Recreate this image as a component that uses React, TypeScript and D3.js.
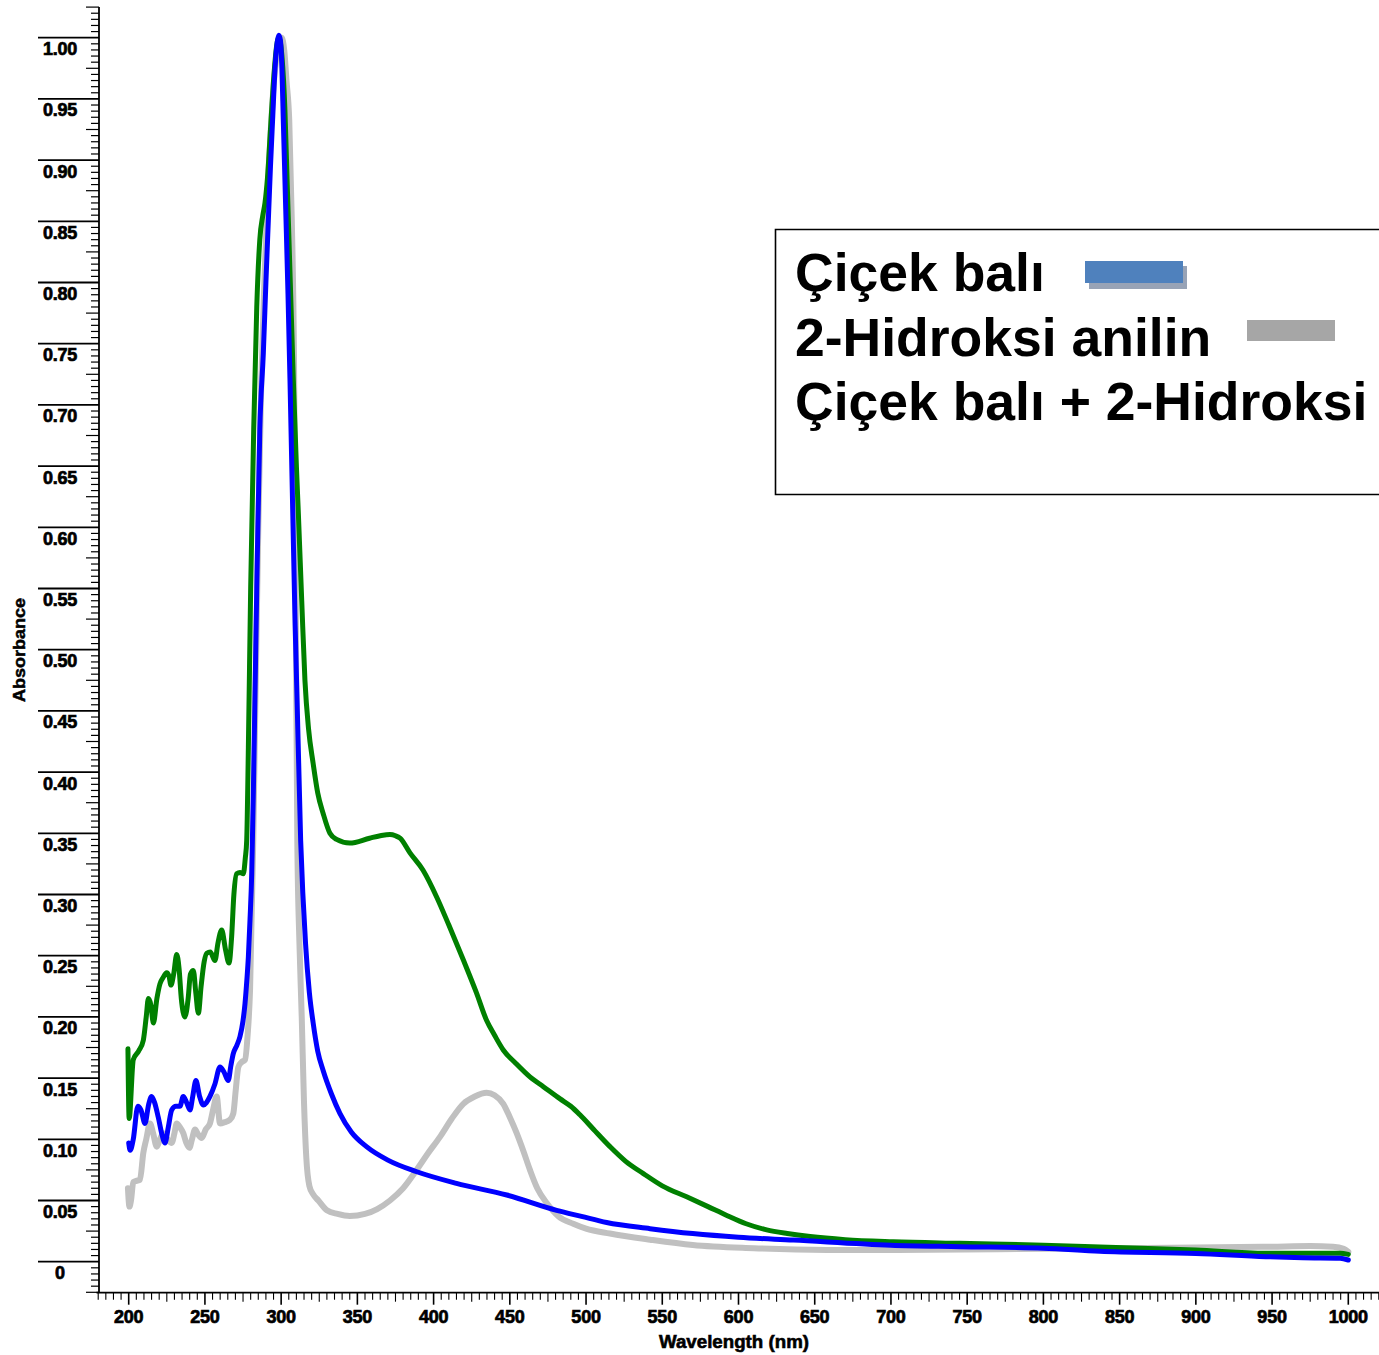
import React, { useEffect, useRef } from "react";
import * as d3 from "d3";

// [wavelength nm, absorbance]
const cicekBali: [number, number][] = [
  [200, 0.097], [201, 0.091], [203, 0.1], [206, 0.127], [208, 0.124], [210.7, 0.113],
  [213, 0.128], [215, 0.135], [217, 0.13], [219.4, 0.118], [222, 0.103], [223.8, 0.097],
  [226, 0.11], [228.2, 0.124], [231, 0.127], [233.6, 0.127], [235.8, 0.135], [238, 0.13],
  [240.2, 0.124], [242, 0.135], [244.1, 0.148], [246.5, 0.135], [249, 0.128], [251, 0.13],
  [253.3, 0.135], [256.5, 0.145], [259.9, 0.159], [262.5, 0.155], [265.3, 0.148], [267, 0.16],
  [268.6, 0.17], [271, 0.177], [273, 0.184], [275, 0.197], [276.3, 0.211], [277.5, 0.23],
  [278.5, 0.249], [279.6, 0.28], [280.7, 0.317], [282, 0.4], [284, 0.55], [286, 0.68],
  [288.3, 0.742], [290, 0.8], [291.6, 0.851], [293, 0.895], [294.4, 0.933], [296, 0.975],
  [297.5, 0.997], [298.5, 1.002], [299.5, 0.998], [300.5, 0.975], [301.4, 0.933], [303, 0.86],
  [304.5, 0.79], [305.8, 0.72], [309, 0.53], [312.8, 0.344], [316, 0.26], [318.5, 0.22],
  [321, 0.195], [324, 0.172], [327.6, 0.156], [333, 0.137], [338.6, 0.121], [346, 0.106],
  [356, 0.094], [370, 0.083], [389, 0.0735], [415, 0.064], [448, 0.0545], [480.7, 0.042],
  [497, 0.037], [513.5, 0.032], [542, 0.027], [570, 0.023], [600, 0.02], [636, 0.0177],
  [700, 0.0135], [745, 0.0123], [800, 0.011], [837, 0.0085], [900, 0.0068], [946, 0.0041],
  [970, 0.0032], [994.6, 0.0028], [1000, 0.0014],
];

const hidroksiAnilin: [number, number][] = [
  [199.5, 0.06], [200.5, 0.045], [201.5, 0.05], [203, 0.065], [205, 0.066], [207.4, 0.067],
  [209.6, 0.089], [211.5, 0.1], [214, 0.113], [216, 0.105], [218.4, 0.094], [220.5, 0.1],
  [222.7, 0.105], [225.5, 0.1], [228.2, 0.097], [230, 0.105], [231.5, 0.113], [233.5, 0.11],
  [235.8, 0.105], [237.8, 0.097], [239.8, 0.093], [241.5, 0.1], [243.5, 0.108], [245.5, 0.104],
  [247.9, 0.101], [250.5, 0.108], [253.3, 0.113], [255.5, 0.125], [257.7, 0.135], [259.9, 0.113],
  [263, 0.114], [266.4, 0.116], [268.6, 0.121], [270.2, 0.14], [271.9, 0.159], [274, 0.163],
  [276.3, 0.165], [278, 0.185], [279.6, 0.222], [281.7, 0.344], [283, 0.45], [285, 0.6],
  [287, 0.72], [289, 0.8], [291, 0.87], [293, 0.92], [295, 0.96], [297, 0.985], [299, 0.998],
  [300.3, 1.0], [302, 0.99], [303.5, 0.965], [305.3, 0.933], [307, 0.85], [308.4, 0.742],
  [309.5, 0.55], [310.6, 0.344], [312, 0.26], [313.5, 0.2], [315, 0.13], [316.5, 0.085],
  [318.5, 0.062], [321, 0.055], [324.4, 0.05], [330, 0.042], [337, 0.039], [345, 0.0373],
  [355, 0.039], [363, 0.043], [371.4, 0.05], [380, 0.06], [388.9, 0.075], [396, 0.088],
  [404.2, 0.102], [412, 0.117], [419.5, 0.129], [427, 0.135], [434.8, 0.138], [440, 0.136],
  [445.7, 0.129], [450, 0.118], [454.5, 0.105], [459, 0.09], [463.2, 0.075], [468, 0.06],
  [474.2, 0.048], [482, 0.037], [491.6, 0.031], [500, 0.027], [515.7, 0.023], [542, 0.018],
  [570, 0.0136], [610, 0.011], [658, 0.0096], [700, 0.0095], [800, 0.0105], [850, 0.011],
  [900, 0.0115], [950, 0.0123], [975, 0.0128], [990, 0.0122], [997, 0.0105], [1000, 0.008],
];

const karisim: [number, number][] = [
  [199.5, 0.174], [200.3, 0.117], [203, 0.165], [206.5, 0.172], [209.6, 0.181], [211.5, 0.2],
  [212.9, 0.215], [214.5, 0.21], [216.2, 0.195], [218.5, 0.215], [220.5, 0.227], [222.5, 0.232],
  [224.9, 0.236], [226.5, 0.233], [227.7, 0.226], [229.5, 0.235], [231.5, 0.251], [233, 0.24],
  [234.5, 0.215], [236.9, 0.2], [239, 0.215], [240.5, 0.235], [242.4, 0.238], [244, 0.22],
  [245.7, 0.203], [247.5, 0.225], [249.5, 0.245], [251.2, 0.252], [253.5, 0.253], [256.6, 0.246],
  [258.5, 0.26], [261, 0.271], [263.5, 0.255], [265.8, 0.244], [267.5, 0.265], [269, 0.3],
  [270.8, 0.317], [273, 0.318], [275.2, 0.317], [276.5, 0.33], [277.4, 0.344], [278.5, 0.42],
  [280, 0.55], [282, 0.68], [284, 0.78], [286, 0.835], [288, 0.855], [289.4, 0.865],
  [291, 0.885], [293, 0.925], [295, 0.965], [297, 0.993], [298.5, 1.0], [300.5, 0.985],
  [302.5, 0.94], [304, 0.88], [306, 0.8], [308, 0.72], [310, 0.65], [311.3, 0.611],
  [313.5, 0.54], [315.6, 0.475], [318, 0.435], [321, 0.407], [324, 0.383], [327.6, 0.366],
  [332, 0.35], [336.4, 0.345], [345, 0.342], [358, 0.346], [365, 0.348], [371.4, 0.349],
  [375, 0.348], [378, 0.346], [384.5, 0.334], [393, 0.32], [402, 0.298], [410, 0.275],
  [420, 0.245], [428, 0.22], [434.8, 0.197], [440, 0.185], [445.7, 0.173], [454, 0.162],
  [463.2, 0.151], [472, 0.143], [483, 0.133], [490, 0.127], [496, 0.12], [505, 0.108],
  [515.7, 0.094], [526, 0.082], [537.6, 0.072], [550, 0.062], [566, 0.053], [580, 0.045],
  [592, 0.038], [605, 0.031], [618.5, 0.026], [632, 0.023], [647, 0.0205], [670, 0.018],
  [701.5, 0.0163], [745, 0.015], [800, 0.0135], [837, 0.012], [900, 0.0095], [946, 0.0069],
  [970, 0.007], [994.6, 0.0069], [1000, 0.006],
];

const xTickLabels = ["200", "250", "300", "350", "400", "450", "500", "550", "600", "650",
  "700", "750", "800", "850", "900", "950", "1000"];
const yTickLabels = ["0", "0.05", "0.10", "0.15", "0.20", "0.25", "0.30", "0.35", "0.40",
  "0.45", "0.50", "0.55", "0.60", "0.65", "0.70", "0.75", "0.80", "0.85", "0.90", "0.95", "1.00"];
const legendLabels = ["Çiçek balı", "2-Hidroksi anilin", "Çiçek balı + 2-Hidroksi"];

const FONT = "'Liberation Sans', Arial, sans-serif";

export default function App() {
  const svgRef = useRef<SVGSVGElement>(null);

  useEffect(() => {
    if (!svgRef.current) return;
    const svg = d3.select(svgRef.current);
    svg.selectAll("*").remove();

    const x = d3.scaleLinear().domain([200, 1000]).range([128.7, 1348.3]);
    const y = d3.scaleLinear().domain([0, 1]).range([1261.7, 37.7]);
    const axisY = 1292.7;
    const axisX = 99;

    const g = svg.append("g");

    // y axis line + ticks
    g.append("line")
      .attr("x1", axisX).attr("x2", axisX)
      .attr("y1", y(1.025)).attr("y2", axisY)
      .attr("stroke", "#000").attr("stroke-width", 1.8);

    d3.range(-25, 1026, 5).forEach((k) => {
      const v = k / 1000;
      const major = k % 50 === 0;
      const mid = !major && k % 25 === 0;
      const len = major ? 61 : mid ? 13 : 8;
      g.append("line")
        .attr("x1", axisX - len).attr("x2", axisX)
        .attr("y1", y(v)).attr("y2", y(v))
        .attr("stroke", "#000").attr("stroke-width", major ? 1.8 : 1.2);
    });

    yTickLabels.forEach((t) => {
      g.append("text")
        .attr("x", 60).attr("y", y(+t) + 17.5)
        .attr("text-anchor", "middle")
        .attr("font-family", FONT).attr("font-weight", "bold")
        .attr("font-size", 18).attr("letter-spacing", -0.2)
        .attr("stroke", "#000").attr("stroke-width", 0.7)
        .attr("fill", "#000")
        .text(t);
    });

    // x axis line + ticks
    g.append("line")
      .attr("x1", 96.5).attr("x2", 1379)
      .attr("y1", axisY).attr("y2", axisY)
      .attr("stroke", "#000").attr("stroke-width", 1.8);

    d3.range(180, 1021, 5).forEach((n) => {
      const major = n % 50 === 0;
      const mid = !major && n % 25 === 0;
      const len = major ? 12 : mid ? 9 : 7;
      g.append("line")
        .attr("x1", x(n)).attr("x2", x(n))
        .attr("y1", axisY).attr("y2", axisY + len)
        .attr("stroke", "#000").attr("stroke-width", major ? 1.6 : 1.1);
    });

    xTickLabels.forEach((t) => {
      g.append("text")
        .attr("x", x(+t)).attr("y", 1323)
        .attr("text-anchor", "middle")
        .attr("font-family", FONT).attr("font-weight", "bold")
        .attr("font-size", 18).attr("letter-spacing", -0.2)
        .attr("stroke", "#000").attr("stroke-width", 0.7)
        .text(t);
    });

    // axis titles
    g.append("text")
      .attr("x", 659).attr("y", 1348)
      .attr("textLength", 150).attr("lengthAdjust", "spacingAndGlyphs")
      .attr("font-family", FONT).attr("font-weight", "bold")
      .attr("font-size", 18)
      .attr("stroke", "#000").attr("stroke-width", 0.6)
      .text("Wavelength (nm)");

    g.append("text")
      .attr("transform", "translate(25,702) rotate(-90)")
      .attr("textLength", 104).attr("lengthAdjust", "spacingAndGlyphs")
      .attr("font-family", FONT).attr("font-weight", "bold")
      .attr("font-size", 17)
      .attr("stroke", "#000").attr("stroke-width", 0.5)
      .text("Absorbance");

    // spectra
    const line = d3.line<[number, number]>()
      .x((d) => x(d[0]))
      .y((d) => y(d[1]))
      .curve(d3.curveMonotoneX);

    const series = [
      { data: hidroksiAnilin, color: "#c0c0c0", width: 6 },
      { data: karisim, color: "#008000", width: 5 },
      { data: cicekBali, color: "#0000ff", width: 5 },
    ];
    series.forEach((s) => {
      g.append("path")
        .attr("d", line(s.data) || "")
        .attr("fill", "none")
        .attr("stroke", s.color)
        .attr("stroke-width", s.width)
        .attr("stroke-linejoin", "round")
        .attr("stroke-linecap", "round");
    });

    // legend
    const leg = g.append("g");
    leg.append("path")
      .attr("d", "M1381,229.5 H775.5 V494.5 H1381")
      .attr("fill", "#fff")
      .attr("stroke", "#000")
      .attr("stroke-width", 1.6);

    const baselines = [291, 355.5, 419.5];
    legendLabels.forEach((t, i) => {
      leg.append("text")
        .attr("x", 795).attr("y", baselines[i])
        .attr("font-family", FONT).attr("font-weight", "bold")
        .attr("font-size", 53.5)
        .attr("fill", "#000")
        .text(t);
    });

    leg.append("rect")
      .attr("x", 1089).attr("y", 266).attr("width", 98).attr("height", 23)
      .attr("fill", "#98a3b6");
    leg.append("rect")
      .attr("x", 1085).attr("y", 261).attr("width", 98).attr("height", 22)
      .attr("fill", "#4f81bd");
    leg.append("rect")
      .attr("x", 1247).attr("y", 320).attr("width", 88).attr("height", 21)
      .attr("fill", "#a6a6a6");
  }, []);

  return (
    <svg
      ref={svgRef}
      width={1379}
      height={1355}
      style={{ position: "absolute", left: 0, top: 0, background: "#fff" }}
    />
  );
}
